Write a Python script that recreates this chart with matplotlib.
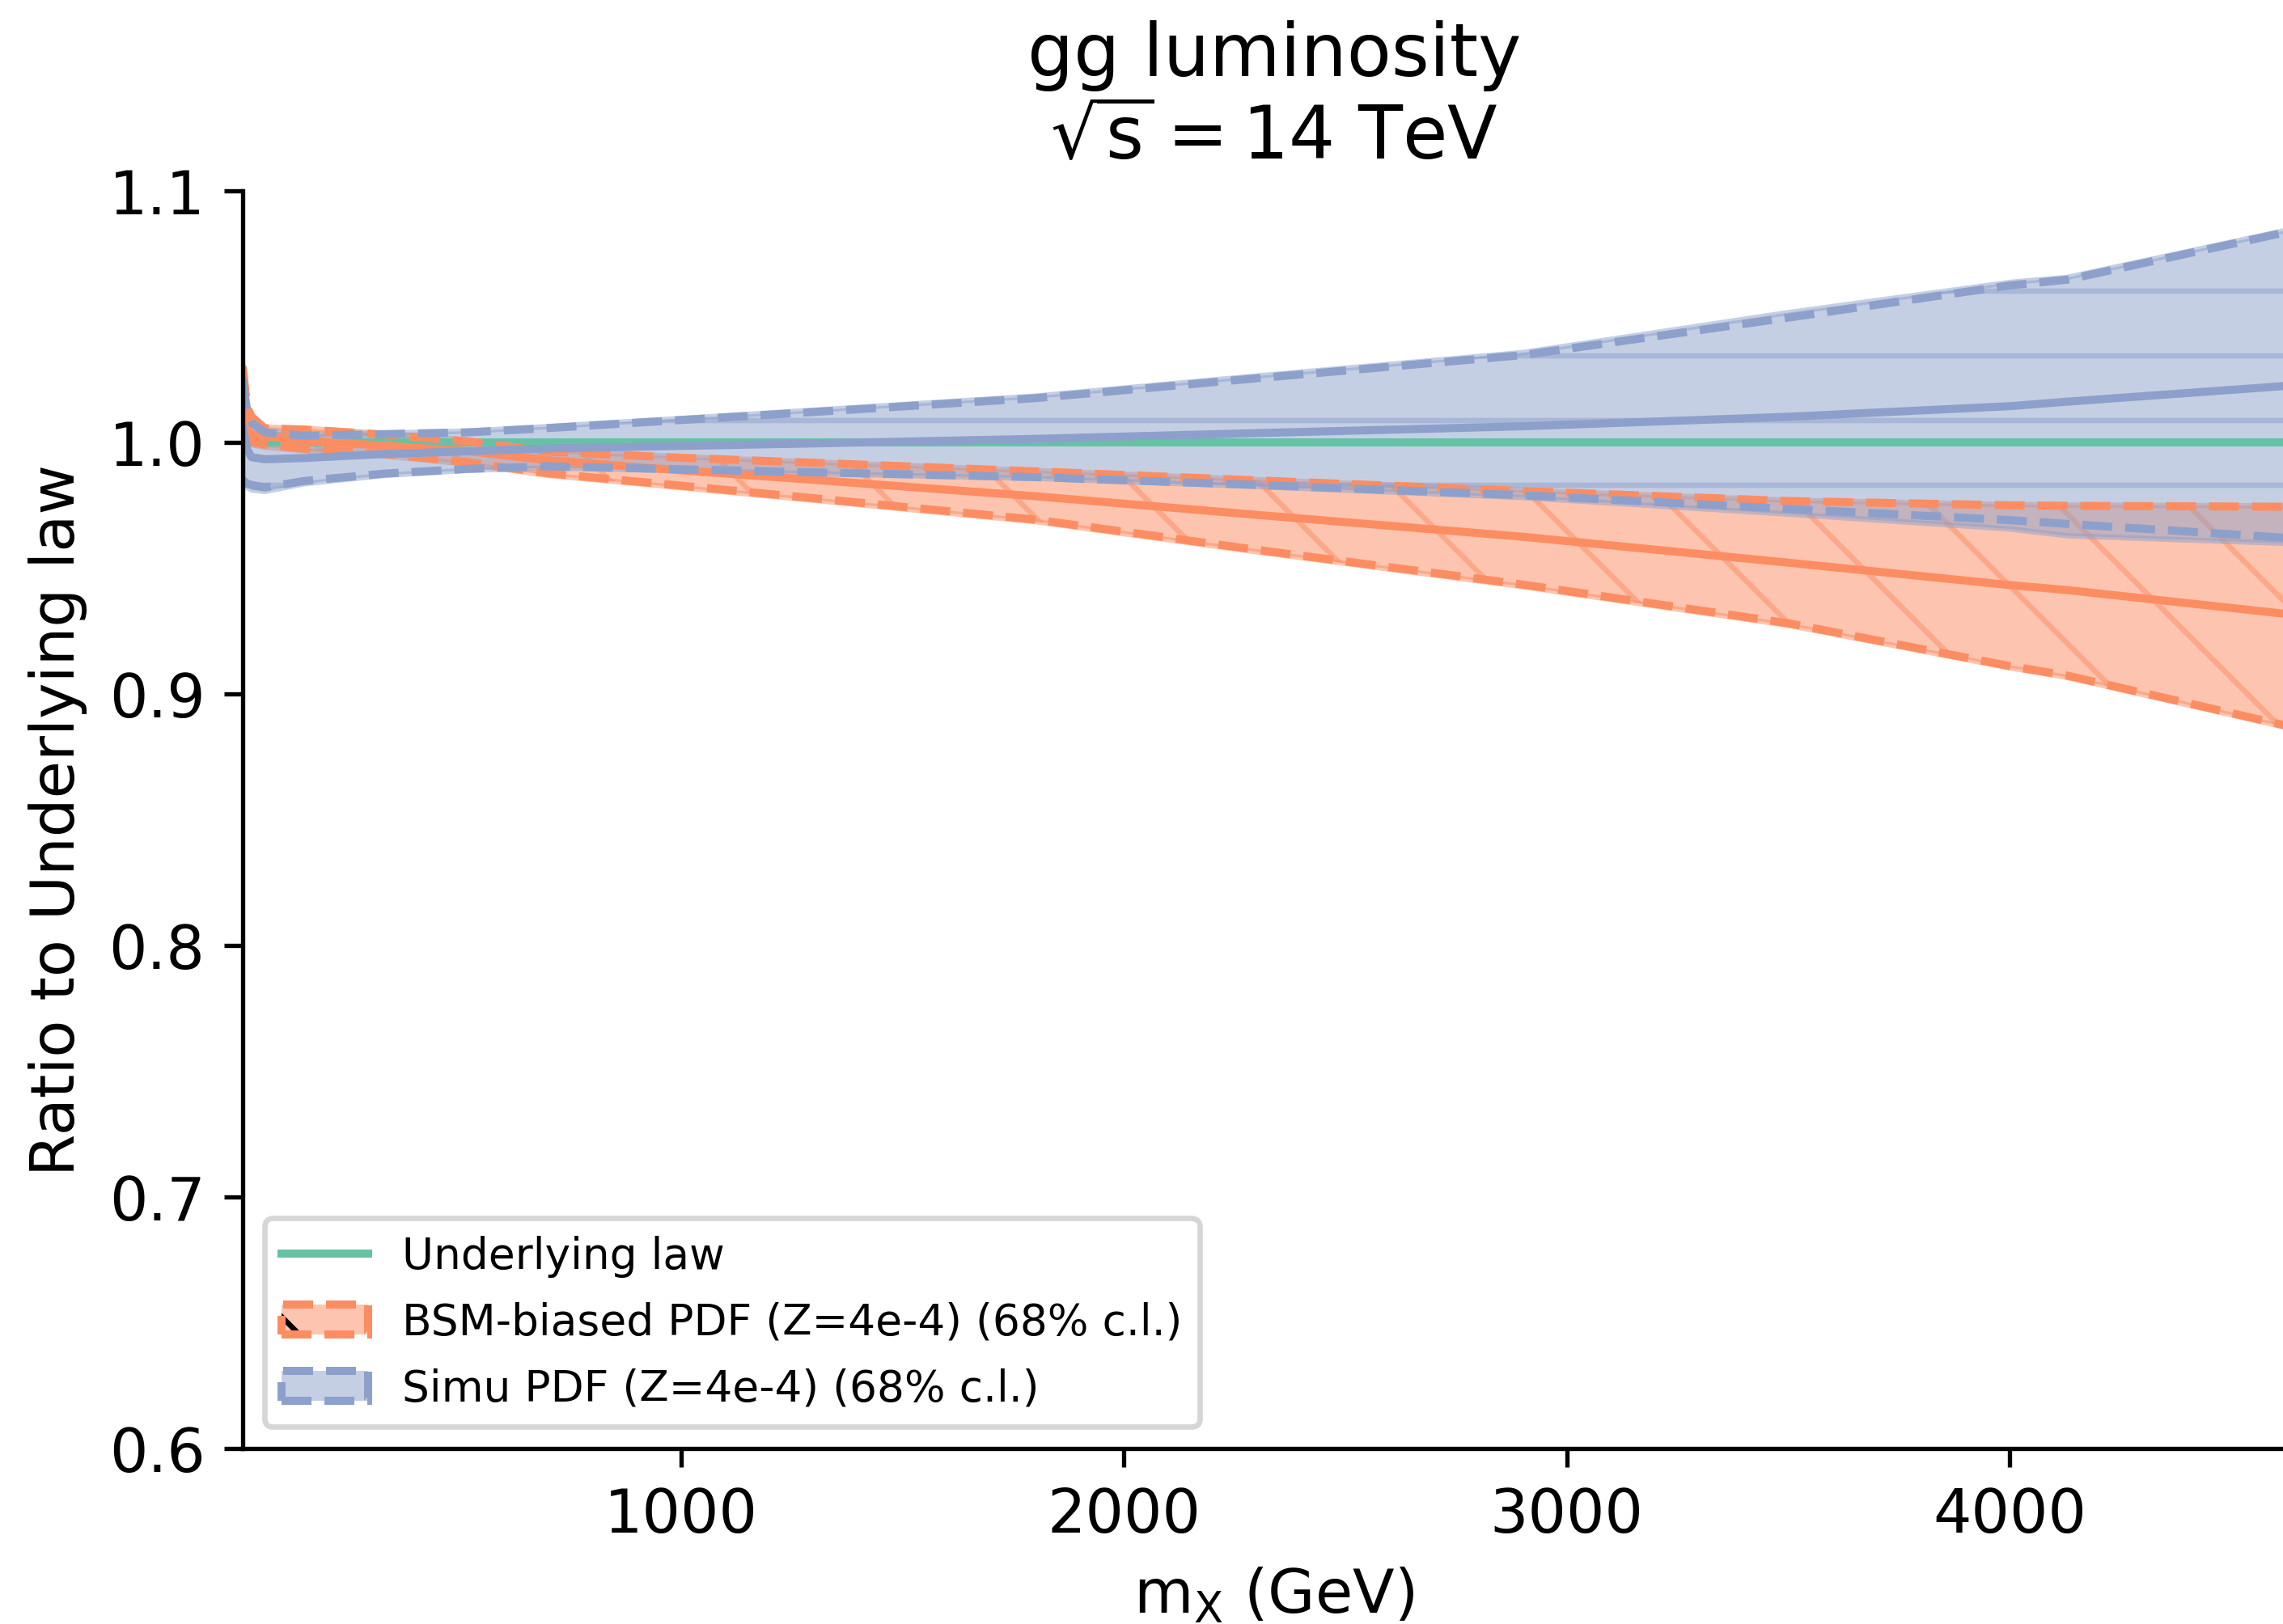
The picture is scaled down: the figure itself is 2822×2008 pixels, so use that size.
import matplotlib
matplotlib.use("Agg")
import matplotlib.pyplot as plt
import matplotlib.patches as mpatches
from matplotlib.lines import Line2D

plt.rcParams["font.family"] = ["DejaVu Sans"]
plt.rcParams["mathtext.default"] = "regular"

# invariant mass grid (GeV)
mx = [10, 20, 30, 60, 150, 330, 520, 700, 1000, 1300, 1800, 2300, 2900, 3500, 4000, 4130, 4667]

# underlying law (reference, ratio = 1)
underlying = [1.0] * len(mx)

# BSM-biased PDF: central value, 1-sigma (dashed) and 68% c.l. band
bsm_cv = [1.011, 1.005, 1.003, 1.0023, 1.0006, 0.9986, 0.9964, 0.9928, 0.9888, 0.9850,
          0.9785, 0.9711, 0.9624, 0.9521, 0.9432, 0.9412, 0.9309]
bsm_std_up = [1.030, 1.014, 1.010, 1.0055, 1.0050, 1.0030, 1.0003, 0.9962, 0.9938, 0.9918,
              0.9884, 0.9848, 0.9806, 0.9766, 0.9749, 0.9747, 0.9743]
bsm_std_dn = [1.004, 1.001, 1.000, 0.9990, 0.9974, 0.9953, 0.9920, 0.9876, 0.9827, 0.9777,
              0.9692, 0.9572, 0.9434, 0.9280, 0.9110, 0.9072, 0.8856]
bsm_68_up = [1.031, 1.015, 1.011, 1.0060, 1.0055, 1.0035, 1.0008, 0.9967, 0.9942, 0.9921,
             0.9887, 0.9851, 0.9809, 0.9769, 0.9752, 0.9750, 0.9746]
bsm_68_dn = [1.003, 1.000, 0.999, 0.9980, 0.9965, 0.9945, 0.9912, 0.9868, 0.9819, 0.9769,
             0.9684, 0.9564, 0.9426, 0.9272, 0.9103, 0.9065, 0.8849]

# Simu PDF
simu_cv = [1.006, 0.997, 0.9940, 0.9932, 0.9937, 0.9953, 0.9964, 0.9975, 0.9985, 0.9995,
           1.0013, 1.0036, 1.0063, 1.0101, 1.0143, 1.0161, 1.0229]
simu_std_up = [1.025, 1.012, 1.0077, 1.0039, 1.0026, 1.0032, 1.0039, 1.0056, 1.0088, 1.0120,
               1.0175, 1.0254, 1.0346, 1.0495, 1.0623, 1.0646, 1.0851]
simu_std_dn = [0.985, 0.9835, 0.9830, 0.9820, 0.9846, 0.9875, 0.9894, 0.9904, 0.9892, 0.9880,
               0.9861, 0.9830, 0.9789, 0.9735, 0.9690, 0.9675, 0.9615]
simu_68_up = [1.026, 1.013, 1.0085, 1.0045, 1.0030, 1.0036, 1.0044, 1.0062, 1.0094, 1.0127,
              1.0183, 1.0263, 1.0356, 1.0515, 1.0635, 1.0655, 1.0858]
simu_68_dn = [0.984, 0.982, 0.981, 0.9804, 0.9835, 0.9868, 0.9888, 0.9898, 0.9887, 0.9875,
              0.9856, 0.9824, 0.9780, 0.9714, 0.9655, 0.9628, 0.9595]

green = "#66c2a5"
orange = "#fc8d62"
blue = "#8da0cb"

DPI = 480
fig = plt.figure(figsize=(2822.4 / DPI, 2008.4 / DPI), dpi=DPI)
# the axes runs a little past the right edge of the picture, as in the original
ax = fig.add_axes([300 / 2822, 1 - 1791 / 2008, (2849 - 300) / 2822, (1791 - 236) / 2008])

ax.plot(mx, underlying, color=green, lw=1.5)

ax.fill_between(mx, bsm_68_dn, bsm_68_up, color=orange, alpha=0.5, hatch="\\", zorder=1)
ax.plot(mx, bsm_std_up, linestyle="--", color=orange, lw=1.5)
ax.plot(mx, bsm_std_dn, linestyle="--", color=orange, lw=1.5)
ax.plot(mx, bsm_cv, color=orange, lw=1.5)

ax.fill_between(mx, simu_68_dn, simu_68_up, color=blue, alpha=0.5, hatch="-", zorder=1)
ax.plot(mx, simu_std_up, linestyle="--", color=blue, lw=1.5)
ax.plot(mx, simu_std_dn, linestyle="--", color=blue, lw=1.5)
ax.plot(mx, simu_cv, color=blue, lw=1.5)

ax.set_xlim(10, 4667)
ax.set_ylim(0.6, 1.1)
ax.spines["top"].set_visible(False)
ax.spines["right"].set_visible(False)
ax.tick_params(labelsize=11.2)

ax.set_xlabel(r"$m_X$ (GeV)", fontsize=11.3)
ax.set_ylabel("Ratio to Underlying law", fontsize=11.3)
ax.set_title("gg luminosity\n" + r"$\sqrt{s} = 14$ TeV", fontsize=13.5)

# legend handles: filled patch + dashed outline
h_law = Line2D([], [], color=green, lw=1.5)
h_bsm = (mpatches.Patch(facecolor=orange, alpha=0.5, hatch="\\"),
         mpatches.Rectangle((0, 0), 1, 1, fill=False, linestyle="--", edgecolor=orange, lw=1.5))
h_simu = (mpatches.Patch(facecolor=blue, alpha=0.5),
          mpatches.Rectangle((0, 0), 1, 1, fill=False, linestyle="--", edgecolor=blue, lw=1.5))
ax.legend([h_law, h_bsm, h_simu],
          ["Underlying law", "BSM-biased PDF (Z=4e-4) (68% c.l.)", "Simu PDF (Z=4e-4) (68% c.l.)"],
          loc="lower left", fontsize=8.0, labelspacing=0.56)

fig.savefig("out.png", dpi=DPI)
